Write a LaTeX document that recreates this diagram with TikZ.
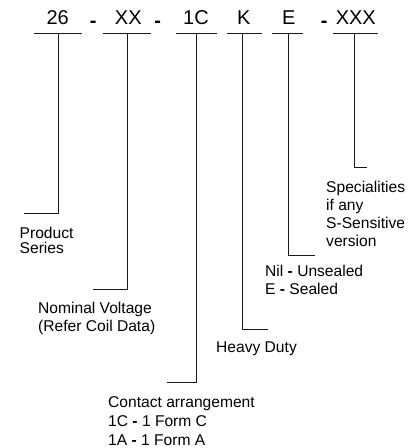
\documentclass[tikz,border=0pt]{standalone}
\usepackage{fontspec}
\setmainfont{Liberation Sans}
\begin{document}
\begin{tikzpicture}[x=1pt,y=-1pt,
  code/.style={anchor=base,inner sep=0pt,font=\fontsize{20}{24}\selectfont},
  sep/.style={anchor=base,inner sep=0pt,font=\fontsize{20}{24}\selectfont\bfseries},
  lbl/.style={anchor=north west,inner sep=0pt,align=left},
  ln/.style={line width=0.9pt,draw=black!90}]
\useasboundingbox (0,0) rectangle (420,448);
% code characters
\node[code] (c26) at (57.7,24) {26};
\node[sep] (d1) at (93.3,27.5) {-};
\node[code] (cxx) at (128.3,24) {XX};
\node[sep] (d2) at (157.7,27.5) {-};
\node[code] (c1c) at (196,24) {1C};
\node[code] (ck) at (243.7,24) {K};
\node[code] (ce) at (288.8,24) {E};
\node[sep] (d3) at (324.2,27.5) {-};
\node[code] (cxxx) at (355.8,24) {XXX};
% underlines
\coordinate (u1a) at (34.3,33.5); \coordinate (u1b) at (82,33.5);
\coordinate (u2a) at (102.7,33.5); \coordinate (u2b) at (150.7,33.5);
\coordinate (u3a) at (175.7,33.5); \coordinate (u3b) at (216.7,33.5);
\coordinate (u4a) at (226.7,33.5); \coordinate (u4b) at (262.3,33.5);
\coordinate (u5a) at (271.7,33.5); \coordinate (u5b) at (303.3,33.5);
\coordinate (u6a) at (333.3,33.5); \coordinate (u6b) at (377.7,33.5);
\draw[ln] (u1a) -- (u1b);
\draw[ln] (u2a) -- (u2b);
\draw[ln] (u3a) -- (u3b);
\draw[ln] (u4a) -- (u4b);
\draw[ln] (u5a) -- (u5b);
\draw[ln] (u6a) -- (u6b);
% leg start points
\coordinate (s1) at (58.3,33.5);
\coordinate (s2) at (127.3,33.5);
\coordinate (s3) at (196.7,33.5);
\coordinate (s4) at (242.7,33.5);
\coordinate (s5) at (288.7,33.5);
\coordinate (s6) at (354,33.5);
% leg ends
\coordinate (e1) at (24,213.3);
\coordinate (e2) at (93.3,289.5);
\coordinate (e3) at (166.7,382.7);
\coordinate (e4) at (268.3,329);
\coordinate (e5) at (315,255.7);
\coordinate (e6) at (366.7,167.7);
\draw[ln] (s1) |- (e1);
\draw[ln] (s2) |- (e2);
\draw[ln] (s3) |- (e3);
\draw[ln] (s4) |- (e4);
\draw[ln] (s5) |- (e5);
\draw[ln] (s6) |- (e6);
% labels (north west = first baseline - 12)
\node[lbl,font=\fontsize{15.6}{14.8}\selectfont] (lp) at (19.5,226) {\rule{0pt}{12pt}Product\\Series};
\node[lbl,font=\fontsize{15.6}{18.3}\selectfont] (lv) at (38,301.3) {\rule{0pt}{12pt}Nominal Voltage\\(Refer Coil Data)};
\node[lbl,font=\fontsize{15.6}{19.2}\selectfont] (lc) at (108,395.3) {\rule{0pt}{12pt}Contact arrangement\\1C \textbf{-} 1 Form C\\1A \textbf{-} 1 Form A};
\node[lbl,font=\fontsize{15.6}{18}\selectfont] (lk) at (216,340.7) {\rule{0pt}{12pt}Heavy Duty};
\node[lbl,font=\fontsize{15.6}{17.7}\selectfont] (le) at (265,264.7) {\rule{0pt}{12pt}Nil \textbf{-} Unsealed\\E \textbf{-} Sealed};
\node[lbl,font=\fontsize{15.6}{17.8}\selectfont] (ls) at (326,180.7) {\rule{0pt}{12pt}Specialities\\if any\\S-Sensitive\\version};
\end{tikzpicture}
\end{document}
